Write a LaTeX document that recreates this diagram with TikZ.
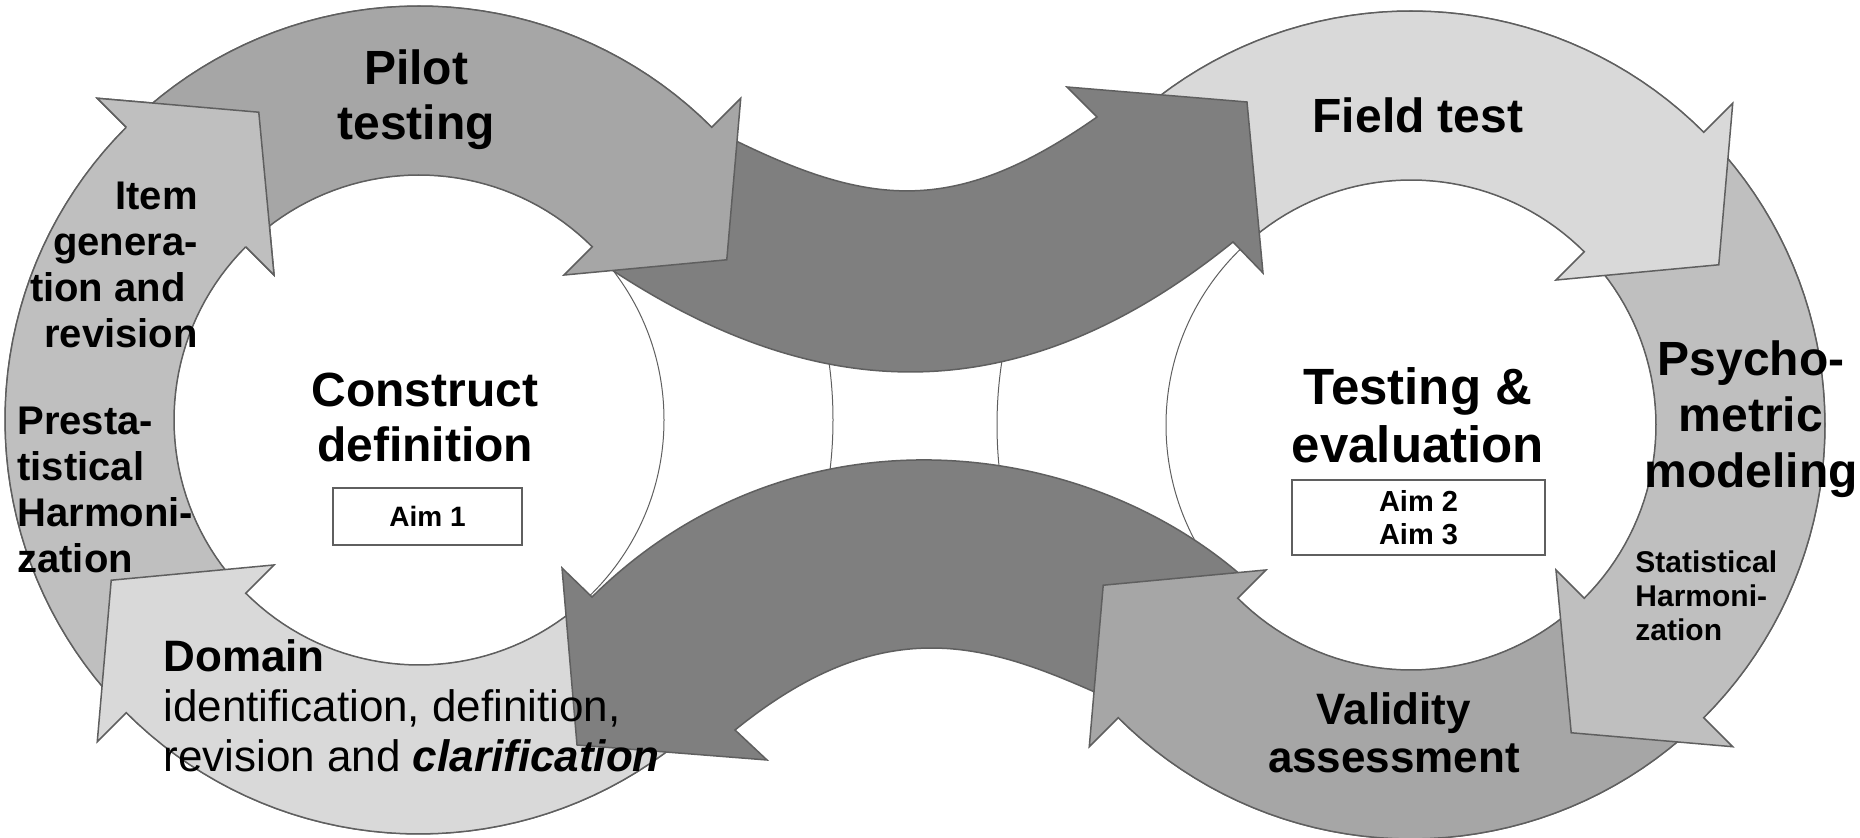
\documentclass[tikz,border=0pt]{standalone}
\usepackage{fontspec}
\setmainfont{Liberation Sans}
\definecolor{cA}{HTML}{D9D9D9}
\definecolor{cB}{HTML}{BFBFBF}
\definecolor{cC}{HTML}{A6A6A6}
\definecolor{cD}{HTML}{7F7F7F}
\definecolor{edgec}{HTML}{5F5F5F}
\newcommand\stackC[2]{\vtop{\baselineskip=#1\lineskiplimit=-100pt\halign{\hfil##\hfil\cr#2\crcr}}}
\newcommand\stackR[2]{\vtop{\baselineskip=#1\lineskiplimit=-100pt\halign{\hfil##\cr#2\crcr}}}
\newcommand\stackL[2]{\vtop{\baselineskip=#1\lineskiplimit=-100pt\halign{##\hfil\cr#2\crcr}}}
% ring arrow: #1 cx, #2 cy, #3 start angle, #4 head base angle, #5 colour
\newcommand\ringarrow[5]{%
  \filldraw[outl,fill=#5] plot[domain=#3:#4,samples=40] ({#1+414*cos(\x)},{#2+414*sin(\x)})
    -- ({#1+455*cos(#4)},{#2+455*sin(#4)})
    -- ({#1+347*cos(#4+17.5)},{#2+347*sin(#4+17.5)})
    -- ({#1+205*cos(#4)},{#2+205*sin(#4)})
    -- plot[domain=#4:#3,samples=40] ({#1+245*cos(\x)},{#2+245*sin(\x)}) -- cycle;}
\begin{document}
\begin{tikzpicture}[x=0.5pt,y=-0.5pt,
  outl/.style={draw=edgec,line width=0.75pt,line join=miter},
  thinline/.style={draw=edgec,line width=0.5pt},
  lbl/.style={inner sep=0pt,text=black},
  aimbox/.style={draw=edgec,line width=1pt,fill=white,inner sep=0pt}]
\useasboundingbox (0,0) rectangle (1860,838);
\coordinate (L) at (419,420);
\coordinate (R) at (1411,425);
% thin circles
\draw[thinline] (L) circle[radius=245];
\draw[thinline] (L) circle[radius=414];
\draw[thinline] (R) circle[radius=245];
\draw[thinline] (R) circle[radius=414];
% item generation
\ringarrow{419}{420}{137}{225}{cB}
% domain
\ringarrow{419}{420}{47}{135}{cA}
% dark bottom arrow
\filldraw[outl,fill=cD] (1242,576) .. controls (1079,434.2) and (789.6,401.4) .. (592,597)
  -- (562,568) -- (577,745) -- (767,760) -- (735,730)
  .. controls (887.5,606.5) and (991.5,645.6) .. (1108,698) -- cycle;
% validity
\ringarrow{1411}{425}{47}{135}{cC}
% psychometric
\ringarrow{1411}{425}{317}{405}{cB}
% field test
\ringarrow{1411}{425}{228}{315}{cA}
% dark top arrow
\filldraw[outl,fill=cD] (600,262) .. controls (805.5,401.7) and (1010.5,422.2) .. (1233,242)
  -- (1263,273) -- (1247,102) -- (1067,87) -- (1097,117)
  .. controls (953,218) and (868,207) .. (724,135) -- cycle;
% pilot testing
\ringarrow{419}{420}{227}{315}{cC}
% item head on top of pilot tail
\fill[cB] ({419+414*cos(225)},{420+414*sin(225)}) -- ({419+455*cos(225)},{420+455*sin(225)})
  -- ({419+347*cos(242.5)},{420+347*sin(242.5)}) -- ({419+205*cos(225)},{420+205*sin(225)})
  -- ({419+245*cos(225)},{420+245*sin(225)}) -- cycle;
\draw[outl] ({419+414*cos(225)},{420+414*sin(225)}) -- ({419+455*cos(225)},{420+455*sin(225)})
  -- ({419+347*cos(242.5)},{420+347*sin(242.5)}) -- ({419+205*cos(225)},{420+205*sin(225)})
  -- ({419+245*cos(225)},{420+245*sin(225)});
% labels
\node[lbl,font=\fontsize{24}{28}\selectfont\bfseries,anchor=base] (pilot) at (416,85) {\stackC{27.5pt}{Pilot\cr testing}};
\node[lbl,font=\fontsize{20}{23}\selectfont\bfseries,anchor=base east] (item) at (198,210) {\stackR{23pt}{Item\cr genera-\cr tion and\kern6pt\cr revision}};
\node[lbl,font=\fontsize{20}{23}\selectfont\bfseries,anchor=base west] (presta) at (17,435) {\stackL{23pt}{Presta-\cr tistical\cr Harmoni-\cr zation}};
\node[lbl,font=\fontsize{22}{25}\selectfont,anchor=base west] (domain) at (163,672) {\stackL{25pt}{\bfseries Domain\cr identification, definition,\cr revision and \textbf{\textit{clarification}}}};
\node[lbl,font=\fontsize{24}{28}\selectfont\bfseries,anchor=base] (construct) at (425,407) {\stackC{27.5pt}{Construct\cr definition}};
\node[aimbox,minimum width=94.5pt,minimum height=28.5pt,font=\fontsize{14}{16}\selectfont\bfseries] (aim1) at (427.5,516.5) {Aim 1};
\node[lbl,font=\fontsize{24}{28}\selectfont\bfseries,anchor=base] (field) at (1418,133) {Field test};
\node[lbl,font=\fontsize{25.5}{29}\selectfont\bfseries,anchor=base] (testing) at (1418,405) {\stackC{29pt}{Testing \&\cr evaluation}};
\node[aimbox,minimum width=126.5pt,minimum height=37.5pt,font=\fontsize{14.5}{16.5}\selectfont\bfseries] (aim23) at (1418.5,517.5) {\stackC{16.5pt}{Aim 2\cr Aim 3}};
\node[lbl,font=\fontsize{24}{28}\selectfont\bfseries,anchor=base] (psycho) at (1751,376) {\stackC{28pt}{Psycho-\cr metric\cr modeling}};
\node[lbl,font=\fontsize{15}{17}\selectfont\bfseries,anchor=base west] (stat) at (1635,573) {\stackL{17pt}{Statistical\cr Harmoni-\cr zation}};
\node[lbl,font=\fontsize{22}{24}\selectfont\bfseries,anchor=base] (validity) at (1394,725) {\stackC{24pt}{Validity\cr assessment}};
\end{tikzpicture}
\end{document}
